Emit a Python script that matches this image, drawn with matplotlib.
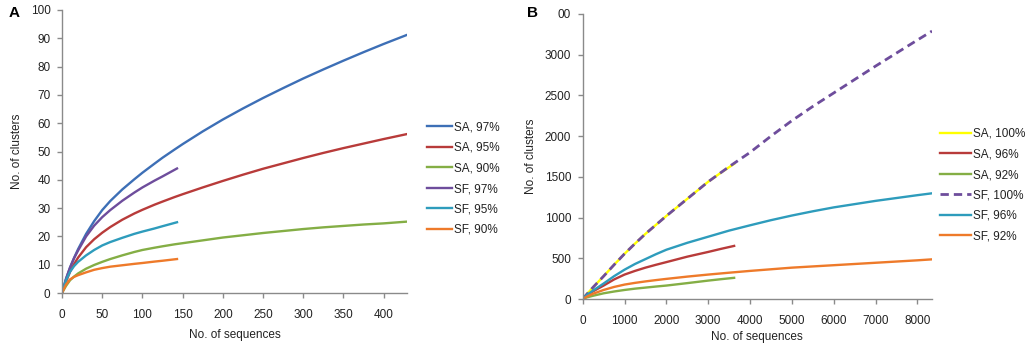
import matplotlib
matplotlib.use("Agg")
import matplotlib.pyplot as plt
from matplotlib.ticker import FixedLocator, FixedFormatter

plt.rcParams['font.family'] = ['Liberation Sans', 'DejaVu Sans']

TXT = '#222222'
AXC = '#8a8a8a'
FS = 8.5

# ---------- Panel A data ----------
xA_SA = [0, 5, 10, 15, 20, 30, 40, 50, 60, 75, 90, 100, 115, 125, 140, 150, 175, 200,
         225, 250, 275, 300, 325, 350, 375, 400, 428]
A_SA97 = [0, 5, 9, 12.4, 15.5, 20.9, 25.4, 29.3, 32.5, 36.6, 40.2, 42.5, 45.7, 47.8, 50.7, 52.6,
          57.1, 61.3, 65.2, 68.9, 72.4, 75.8, 79.0, 82.1, 85.1, 88.0, 91.1]
A_SA95 = [0, 4, 7.5, 10.2, 12.5, 16.2, 19, 21.3, 23.3, 25.9, 28.1, 29.4, 31.2, 32.3, 33.9, 34.9,
          37.3, 39.6, 41.8, 43.9, 45.8, 47.7, 49.5, 51.2, 52.8, 54.4, 56.1]
A_SA90 = [0, 2.5, 4.5, 5.8, 6.9, 8.6, 9.9, 11, 12, 13.3, 14.5, 15.2, 16, 16.5, 17.2, 17.6,
          18.6, 19.6, 20.4, 21.2, 21.9, 22.6, 23.2, 23.7, 24.2, 24.6, 25.2]
xA_SF = [0, 5, 10, 15, 20, 30, 40, 50, 60, 75, 90, 100, 115, 125, 143]
A_SF97 = [0, 5, 9, 12.3, 15, 20, 23.8, 26.8, 29.3, 32.6, 35.5, 37.3, 39.7, 41.2, 44]
A_SF95 = [0, 4.5, 7.5, 9.5, 11, 13.3, 15.2, 16.8, 18, 19.5, 20.9, 21.7, 22.8, 23.6, 25]
A_SF90 = [0, 3, 4.8, 5.7, 6.3, 7.3, 8.2, 8.8, 9.3, 9.8, 10.3, 10.6, 11.1, 11.4, 12]
A_labels = ['SA, 97%', 'SA, 95%', 'SA, 90%', 'SF, 97%', 'SF, 95%', 'SF, 90%']
A_xticks = [0, 50, 100, 150, 200, 250, 300, 350, 400]
A_yticks = [0, 10, 20, 30, 40, 50, 60, 70, 80, 90, 100]

# ---------- Panel B data ----------
xB_SA = [0, 100, 250, 500, 750, 1000, 1250, 1500, 1750, 2000, 2500, 3000, 3300, 3620]
B_SA100 = [0, 60, 145, 280, 420, 555, 680, 800, 910, 1020, 1230, 1440, 1550, 1660]
B_SA96 = [0, 45, 95, 165, 240, 300, 345, 385, 420, 453, 520, 578, 615, 652]
B_SA92 = [0, 20, 40, 70, 92, 111, 127, 140, 153, 165, 195, 226, 243, 260]
xB_SF = [0, 100, 250, 500, 750, 1000, 1250, 1500, 1750, 2000, 2500, 3000, 3500, 4000,
         4500, 5000, 5500, 6000, 6500, 7000, 7500, 8000, 8350]
B_SF100 = [0, 60, 145, 280, 420, 555, 680, 800, 910, 1020, 1230, 1440, 1625, 1800,
           2000, 2190, 2365, 2530, 2695, 2860, 3020, 3180, 3290]
B_SF96 = [0, 50, 105, 190, 280, 360, 430, 490, 550, 605, 690, 765, 840, 905,
          968, 1025, 1077, 1125, 1165, 1205, 1240, 1275, 1298]
B_SF92 = [0, 30, 65, 111, 148, 177, 198, 216, 232, 247, 275, 300, 323, 345,
          365, 385, 400, 415, 430, 445, 460, 475, 487]
B_labels = ['SA, 100%', 'SA, 96%', 'SA, 92%', 'SF, 100%', 'SF, 96%', 'SF, 92%']
B_xticks = [0, 1000, 2000, 3000, 4000, 5000, 6000, 7000, 8000]
B_yticks = [0, 500, 1000, 1500, 2000, 2500, 3000, 3500]
B_yticklabels = ['0', '500', '1000', '1500', '2000', '2500', '3000', '00']

C_BLUE = '#3d6fb6'
C_RED = '#b83b3a'
C_GREEN = '#84ae45'
C_PURPLE = '#6e4d9c'
C_TEAL = '#2e9cbc'
C_ORANGE = '#ee7a2a'
C_YELLOW = '#ffff00'

fig = plt.figure(figsize=(10.28, 3.48), dpi=100)
W, H = 1028, 348

def axes_px(l, r, t, b):
    return fig.add_axes([l / W, 1 - b / H, (r - l) / W, (b - t) / H])

def style(ax):
    for s in ['top', 'right']:
        ax.spines[s].set_visible(False)
    for s in ['left', 'bottom']:
        ax.spines[s].set_color(AXC)
        ax.spines[s].set_linewidth(1.0)
    ax.tick_params(axis='both', direction='out', length=3.3, width=1.0,
                   color=AXC, labelsize=FS, labelcolor=TXT)
    ax.tick_params(axis='x', pad=8.0)
    ax.tick_params(axis='y', pad=5.0)

LW = 1.7

# Panel A
axA = axes_px(62, 407, 10, 293)
hA = []
hA += axA.plot(xA_SA, A_SA97, color=C_BLUE, lw=LW)
hA += axA.plot(xA_SA, A_SA95, color=C_RED, lw=LW)
hA += axA.plot(xA_SA, A_SA90, color=C_GREEN, lw=LW)
hA += axA.plot(xA_SF, A_SF97, color=C_PURPLE, lw=LW)
hA += axA.plot(xA_SF, A_SF95, color=C_TEAL, lw=LW)
hA += axA.plot(xA_SF, A_SF90, color=C_ORANGE, lw=LW)
axA.set_xlim(0, 429)
axA.set_ylim(0, 100)
axA.xaxis.set_major_locator(FixedLocator(A_xticks))
axA.yaxis.set_major_locator(FixedLocator(A_yticks))
style(axA)
axA.set_xlabel('No. of sequences', fontsize=FS, color=TXT)
axA.set_ylabel('No. of clusters', fontsize=FS, color=TXT)
axA.xaxis.set_label_coords(0.5, -0.148)
axA.xaxis.label.set_va('center')
axA.yaxis.set_label_coords(-0.131, 0.5)
axA.yaxis.label.set_va('center')
axA.legend(hA, A_labels, loc='upper left', bbox_to_anchor=(427.3 / W, 1 - 121.5 / H),
           bbox_transform=fig.transFigure, frameon=False, fontsize=FS,
           handlelength=2.1, handletextpad=0.12, labelspacing=0.72,
           borderpad=0, borderaxespad=0, labelcolor=TXT)

# Panel B
axB = axes_px(582.7, 932, 14, 299)
hB = []
hB += axB.plot(xB_SA, B_SA100, color=C_YELLOW, lw=LW)
hB += axB.plot(xB_SA, B_SA96, color=C_RED, lw=LW)
hB += axB.plot(xB_SA, B_SA92, color=C_GREEN, lw=LW)
hB += axB.plot(xB_SF, B_SF100, color=C_PURPLE, lw=LW + 0.3, dashes=(3.0, 1.8))
hB += axB.plot(xB_SF, B_SF96, color=C_TEAL, lw=LW)
hB += axB.plot(xB_SF, B_SF92, color=C_ORANGE, lw=LW)
axB.set_xlim(0, 8350)
axB.set_ylim(0, 3500)
axB.xaxis.set_major_locator(FixedLocator(B_xticks))
axB.yaxis.set_major_locator(FixedLocator(B_yticks))
axB.yaxis.set_major_formatter(FixedFormatter(B_yticklabels))
style(axB)
axB.set_xlabel('No. of sequences', fontsize=FS, color=TXT)
axB.set_ylabel('No. of clusters', fontsize=FS, color=TXT)
axB.xaxis.set_label_coords(0.5, -0.133)
axB.xaxis.label.set_va('center')
axB.yaxis.set_label_coords(-0.147, 0.5)
axB.yaxis.label.set_va('center')
axB.legend(hB, B_labels, loc='upper left', bbox_to_anchor=(940 / W, 1 - 128 / H),
           bbox_transform=fig.transFigure, frameon=False, fontsize=FS,
           handlelength=2.65, handletextpad=0.12, labelspacing=0.72,
           borderpad=0, borderaxespad=0, labelcolor=TXT)

fig.text(14.5 / W, 1 - 13.3 / H, 'A', fontsize=11, fontweight='bold',
         ha='center', va='center', color='black')
fig.text(532.5 / W, 1 - 13 / H, 'B', fontsize=11, fontweight='bold',
         ha='center', va='center', color='black')

fig.savefig('out.png', dpi=100)
